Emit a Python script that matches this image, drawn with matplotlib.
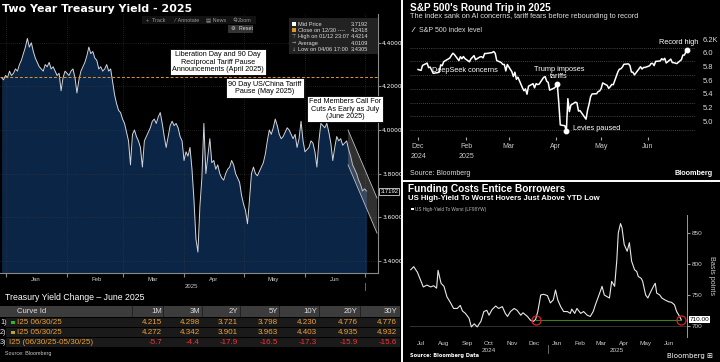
import numpy as np
import pandas as pd
import matplotlib
matplotlib.use("Agg")
import matplotlib.pyplot as plt
import matplotlib.dates as mdates
from matplotlib.patches import Rectangle, Polygon
from matplotlib.lines import Line2D
from matplotlib.ticker import NullFormatter

# ---------------- data ----------------
# two year treasury yield, one value per day from 2024-12-30
t2_start = "2024-12-30"
t2_val = [4.24, 4.23, 4.25, 4.24, 4.27, 4.25, 4.26, 4.28, 4.27, 4.30, 4.32, 4.35,
          4.38, 4.42, 4.38, 4.40, 4.36, 4.33, 4.31, 4.29, 4.28, 4.27,
          4.30, 4.29, 4.31, 4.28, 4.29, 4.27, 4.25, 4.26, 4.18, 4.24,
          4.27, 4.26, 4.25, 4.27, 4.28, 4.24, 4.17, 4.23, 4.27, 4.29,
          4.31, 4.34, 4.38, 4.35, 4.36, 4.33, 4.32, 4.28, 4.29, 4.27,
          4.28, 4.30, 4.27, 4.28, 4.22, 4.16, 4.12, 4.09, 4.08, 4.05,
          4.03, 3.99, 3.95, 3.84, 3.98, 4.00, 3.97, 3.95, 3.92, 3.83,
          3.95, 3.97, 3.99, 4.01, 4.04, 4.05, 4.03, 4.06, 4.08, 4.03,
          3.97, 3.92, 3.97, 4.02, 4.04, 4.02, 4.03, 4.01, 3.97, 3.95,
          3.86, 3.90, 3.88, 3.92, 3.82, 3.68, 3.50, 3.44, 3.65, 3.78,
          4.03, 3.80, 3.88, 3.96, 3.85, 3.86, 3.82, 3.84, 3.80, 3.78,
          3.77, 3.80, 3.82, 3.83, 3.86, 3.84, 3.80, 3.78, 3.76, 3.70,
          3.66, 3.63, 3.57, 3.68, 3.80, 3.83, 3.80, 3.79, 3.81, 3.83,
          3.85, 3.89, 3.95, 4.00, 3.98, 4.01, 4.05, 4.02, 3.98, 3.96,
          3.97, 3.99, 4.01, 4.00, 3.98, 3.96, 3.98, 3.92, 3.96, 4.04,
          3.95, 3.90, 3.91, 3.92, 3.95, 3.94, 3.90, 3.83, 3.95, 4.03,
          4.02, 4.01, 4.03, 3.99, 3.94, 3.86, 3.92, 3.97, 3.95, 3.96,
          3.93, 3.94, 3.95, 3.91, 3.88, 3.84, 3.82, 3.80, 3.77, 3.75,
          3.72, 3.73, 3.72]
t2_ticks = [3.4, 3.6, 3.8, 4.0, 4.2, 4.4]
t2_close_1230 = 4.2418
t2_last = 3.7192
t2_legend = [("Mid Price", "3.7192"), ("Close on 12/30 ----", "4.2418"),
             ("High on 01/12 23:07", "4.4214"), ("Average", "4.0109"),
             ("Low on 04/06 17:00", "3.4305")]

curve_cols = ["1M", "3M", "2Y", "5Y", "10Y", "20Y", "30Y"]
curve_names = ["I25 06/30/25", "I25 05/30/25", "I25 (06/30/25-05/30/25)"]
curve_jun = ["4.215", "4.298", "3.721", "3.798", "4.230", "4.776", "4.776"]
curve_may = ["4.272", "4.342", "3.901", "3.963", "4.403", "4.935", "4.932"]
curve_chg = ["-5.7", "-4.4", "-17.9", "-16.5", "-17.3", "-15.9", "-15.6"]

# S&P 500 (thousands), days after 2024-12-31
sp_day = [0, 2, 3, 6, 7, 8, 10, 13, 14, 15, 16, 17, 21, 22, 23, 24, 27, 28, 29, 30,
          31, 34, 35, 36, 37, 38, 41, 42, 43, 44, 45, 49, 50, 51, 52, 55, 56, 57, 58, 59,
          62, 63, 64, 65, 66, 69, 70, 71, 72, 73, 76, 77, 78, 79, 80, 83, 84, 85, 86, 87,
          90, 91, 92, 93, 94, 97, 98, 99, 100, 101, 104, 105, 106, 107, 111, 112, 113, 114, 115, 118,
          119, 120, 121, 122, 125, 126, 127, 128, 129, 132, 133, 134, 135, 136, 139, 140, 141, 142, 143, 147,
          148, 149, 150, 153, 154, 155, 156, 157, 160, 161, 162, 163, 164, 167, 168, 169, 171, 174, 175, 176,
          177, 178]
sp_val = [5.882, 5.869, 5.942, 5.975, 5.909, 5.918, 5.827, 5.836, 5.843, 5.950,
          5.937, 5.997, 6.049, 6.086, 6.119, 6.101, 6.012, 6.068, 6.039, 6.071,
          6.041, 5.994, 6.038, 6.061, 6.084, 6.026, 6.066, 6.068, 6.052, 6.115,
          6.115, 6.129, 6.144, 6.118, 6.013, 5.983, 5.955, 5.956, 5.861, 5.955,
          5.850, 5.779, 5.842, 5.739, 5.770, 5.615, 5.572, 5.599, 5.522, 5.639,
          5.675, 5.615, 5.676, 5.663, 5.668, 5.768, 5.777, 5.712, 5.693, 5.581,
          5.612, 5.633, 5.671, 5.397, 5.074, 5.062, 4.983, 5.457, 5.268, 5.363,
          5.406, 5.397, 5.276, 5.283, 5.158, 5.288, 5.376, 5.485, 5.525, 5.529,
          5.561, 5.569, 5.604, 5.686, 5.650, 5.607, 5.631, 5.664, 5.660, 5.844,
          5.886, 5.892, 5.917, 5.958, 5.964, 5.940, 5.845, 5.842, 5.803, 5.922,
          5.889, 5.912, 5.912, 5.936, 5.970, 5.971, 5.939, 6.000, 6.006, 6.039,
          6.022, 6.045, 5.977, 6.033, 5.983, 5.981, 5.968, 6.025, 6.092, 6.092,
          6.141, 6.173]
sp_ticks = [5.0, 5.2, 5.4, 5.6, 5.8, 6.0, 6.2]
sp_tick_lbl = ["5.0", "5.2", "5.4", "5.6", "5.8", "6.0", "6.2K"]
sp_xdates = ["2024-12-31", "2025-02-01", "2025-03-01", "2025-04-01", "2025-05-01", "2025-06-01"]
sp_xlbl = ["Dec\n2024", "Feb\n2025", "Mar", "Apr", "May", "Jun"]
sp_events = {"trump": 92, "levies": 98, "record": 178}

# US high yield to worst (bp), days after 2024-07-01
hy_day = [0, 4, 9, 13, 17, 22, 27, 31, 35, 37, 41, 45, 49, 54, 58, 63, 67, 70, 74, 79,
          82, 86, 90, 95, 99, 103, 106, 110, 115, 119, 124, 128, 131, 135, 140, 144, 149, 152, 158, 162,
          166, 169, 172, 176, 180, 185, 189, 193, 196, 199, 203, 207, 212, 216, 218, 222, 225, 230, 234, 239,
          243, 247, 250, 254, 259, 262, 266, 269, 272, 276, 279, 281, 284, 286, 289, 293, 296, 299, 303, 306,
          308, 312, 314, 318, 321, 324, 329, 331, 333, 337, 340, 344, 349, 353, 357, 360, 364, 366]
hy_val = [791, 796, 787, 775, 763, 766, 763, 765, 761, 790, 769, 764, 747, 737, 728, 728, 733, 724, 720, 712,
          698, 703, 698, 707, 723, 725, 717, 726, 732, 728, 731, 720, 715, 723, 728, 725, 717, 721, 715, 709,
          707, 710, 723, 750, 751, 749, 737, 742, 758, 742, 731, 723, 723, 720, 727, 720, 728, 720, 723, 717,
          715, 723, 734, 747, 764, 750, 747, 745, 772, 764, 807, 851, 866, 859, 832, 821, 835, 805, 791, 788,
          780, 777, 772, 750, 745, 753, 765, 769, 753, 750, 745, 742, 739, 738, 734, 723, 715, 710]
hy_ticks = [700, 750, 800, 850]
hy_low = 710
hy_low_day0 = 169

# ---------------- figure ----------------
W, H = 720, 362
fig = plt.figure(figsize=(7.2, 3.62), dpi=100, facecolor="black")
SANS = "Liberation Sans"
WIDE = "DejaVu Sans"
SYM = [SANS, "DejaVu Sans"]


def fax(x0, y0, x1, y1):
    ax = fig.add_axes([x0 / W, 1 - y1 / H, (x1 - x0) / W, (y1 - y0) / H])
    ax.set_facecolor("black")
    return ax


def txt(x, y, s, size=5, color="white", ha="left", va="center", family=SANS, **kw):
    return fig.text(x / W, 1 - y / H, s, size=size, color=color, ha=ha, va=va,
                    family=family, **kw)


def rect(x, y, w, h, **kw):
    fig.add_artist(Rectangle((x / W, 1 - (y + h) / H), w / W, h / H,
                             transform=fig.transFigure, lw=0, **kw))


def seg(xs, ys, **kw):
    fig.add_artist(Line2D([x / W for x in xs], [1 - y / H for y in ys],
                          transform=fig.transFigure, **kw))


def days(base, d):
    return pd.Timestamp(base) + pd.to_timedelta(d, unit="D")


# ======== left: two year treasury ========
txt(2, 9, "Two Year Treasury Yield - 2025", size=7.9, weight="bold", family=WIDE)

t2_x = pd.date_range(t2_start, periods=len(t2_val), freq="D")
ax1 = fax(0, 14, 378, 273)
ylo, yhi = 3.344, 4.532
ax1.set_ylim(ylo, yhi)
ax1.set_xlim(days("2025-01-01", -2.8), days("2025-01-01", 187.8))
for v in t2_ticks:
    ax1.axhline(v, color="#3a3a3a", lw=0.5, ls=(0, (1, 2)), zorder=3)
for m in pd.date_range("2025-01-01", "2025-07-01", freq="MS"):
    ax1.axvline(m, color="#3a3a3a", lw=0.5, ls=(0, (1, 2)), zorder=3)
ax1.fill_between(t2_x, t2_val, ylo, color="#0b2547", lw=0, zorder=2)
ax1.plot(t2_x, t2_val, color="#d2d6dc", lw=0.7, zorder=4)
ax1.axhline(t2_close_1230, color="#e0962a", lw=0.7, ls=(0, (3, 2)), zorder=5)

# trend channel
d0 = mdates.date2num(days("2025-01-01", 172.7))
d1 = mdates.date2num(days("2025-01-01", 187.3))
ax1.add_patch(Polygon([(d0, 4.0), (d1, 3.688), (d1, 3.527), (d0, 3.84)], closed=True,
                      fc="#8c8c8c", alpha=0.35, ec="none", zorder=6))
ax1.plot([d0, d1], [4.0, 3.688], color="#bdbdbd", lw=0.6, zorder=6)
ax1.plot([d0, d1], [3.84, 3.527], color="#bdbdbd", lw=0.6, zorder=6)

for s in ["top", "left"]:
    ax1.spines[s].set_visible(False)
for s in ["right", "bottom"]:
    ax1.spines[s].set_color("#8a8a8a")
    ax1.spines[s].set_linewidth(0.8)
ax1.yaxis.tick_right()
ax1.set_yticks(t2_ticks)
ax1.set_yticklabels([f"{v:.4f}" for v in t2_ticks])
ax1.tick_params(axis="y", colors="#8a8a8a", labelcolor="white", labelsize=4.2, length=2, pad=1)
ax1.xaxis.set_major_locator(mdates.MonthLocator())
ax1.xaxis.set_major_formatter(NullFormatter())
ax1.xaxis.set_minor_locator(mdates.MonthLocator(bymonthday=16))
ax1.xaxis.set_minor_formatter(mdates.DateFormatter("%b"))
ax1.tick_params(axis="x", which="major", length=3, color="#8a8a8a")
ax1.tick_params(axis="x", which="minor", length=0, labelsize=4.3, labelcolor="#cccccc", pad=3)
for lbl in ax1.get_xticklabels(minor=True):
    lbl.set_family(SANS)
txt(185, 287, "2025", size=4.3, color="#cccccc")
seg([365, 365], [283, 290], color="#777777", lw=0.6)

ax1.text(1.006, t2_last, f"{t2_last:.4f}", transform=ax1.get_yaxis_transform(), size=4.2,
         color="white", va="center", ha="left", family=SANS,
         bbox=dict(boxstyle="square,pad=0.15", fc="black", ec="white", lw=0.5), clip_on=False)

# toolbar
rect(142, 16, 114, 8, color="#121212")
for x, s in [(146, "+  Track"), (174, "⁄  Annotate"), (206, "▤ News"), (238, "Zoom")]:
    txt(x, 20, s, size=3.9, color="#9a9a9a", family=SYM)
# magnifier icon
seg([234.8], [19.4], marker="o", ms=2.2, mfc="none", mec="#9a9a9a", mew=0.5, ls="none")
seg([235.5, 236.5], [20.2, 21.3], color="#9a9a9a", lw=0.5)
rect(228, 25, 25, 8, color="#333333")
txt(231, 29, "⚙  Reset", size=3.9, color="#dddddd", family=SYM)

# legend box
rect(289, 18, 89, 36, color="#222222")
icons = ["sq_w", "sq_o", "⊤", "→", "↓"]
for i, ((lab, val), ic) in enumerate(zip(t2_legend, icons)):
    yy = 24 + i * 6.4
    if ic == "sq_w":
        rect(292, yy - 2, 4, 4, color="white")
    elif ic == "sq_o":
        rect(292, yy - 2, 4, 4, color="#e0962a")
    else:
        txt(294, yy, ic, size=3.6, color="#aaaaaa", ha="center", family=WIDE)
    txt(298, yy, lab, size=4.1, color="#dddddd")
    txt(368, yy, val, size=4.1, color="#dddddd", ha="right")

# event boxes
bx = dict(boxstyle="square,pad=0.3", fc="white", ec="black", lw=0.6)
txt(218, 62, "Liberation Day and 90 Day\nReciprocal Tariff Pause\nAnnouncements (April 2025)",
    size=5.2, color="black", ha="center", multialignment="center", linespacing=1.15, bbox=bx)
txt(265, 88, "90 Day US/China Tariff\nPause (May 2025)", size=5.2, color="black",
    ha="center", multialignment="center", linespacing=1.15, bbox=bx)
txt(345, 109, "Fed Members Call For\nCuts As Early as July\n(June 2025)", size=5.2,
    color="black", ha="center", multialignment="center", linespacing=1.15, bbox=bx)

# table
txt(5, 297, "Treasury Yield Change – June 2025", size=6.3)
col_right = [162, 200, 238, 278, 317, 358, 397]
col_sep = [132, 163, 202, 240, 279, 319, 360]
rect(0, 306, 400, 11, color="#3c3c3c")
for x in col_sep:
    rect(x, 306, 0.8, 11, color="#222222")
txt(17, 311.5, "Curve Id", size=5.6, color="#dddddd")
for x, c in zip(col_right, curve_cols):
    txt(x, 311.5, c, size=5.6, color="#dddddd", ha="right")
rows = [(curve_jun, "#f0a030"), (curve_may, "#f0a030"), (curve_chg, "#ff3030")]
squares = ["#2fb52f", "#b8a53a", None]
for i, ((vals, vc), name, sq) in enumerate(zip(rows, curve_names, squares)):
    yy = 322.5 + i * 10
    rect(6, yy - 4.7, 394, 9.4, color="#1a1a1a")
    txt(0, yy, f"{i + 1})", size=5.2, color="#e8e8e8")
    if sq:
        rect(11, yy - 1.8, 3.6, 3.6, color=sq)
        txt(17, yy, name, size=5.8, color="#f0a030")
    else:
        txt(9, yy, name, size=5.8, color="#f0a030")
    for x, v in zip(col_right, vals):
        txt(x, yy, v, size=5.8, color=vc, ha="right")
txt(5, 354, "Source: Bloomberg", size=3.9, color="#cccccc")

# ======== top right: S&P 500 ========
txt(410, 8, "S&P 500's Round Trip in 2025", size=7.2, weight="bold")
txt(410, 17, "The index sank on AI concerns, tariff fears before rebounding to record",
    size=5.3, color="#dddddd")
txt(412, 31, "⁄", size=5.5, color="white", ha="left", weight="bold")
txt(419, 31, "S&P 500 index level", size=5.0, color="#dddddd")

sp_x = days("2024-12-31", sp_day)
ax2 = fax(410, 40, 695, 137)
ax2.set_xlim(days("2024-12-31", -5.3), days("2024-12-31", 183))
ax2.set_ylim(4.898, 6.312)
for v, lab in zip(sp_ticks, sp_tick_lbl):
    ax2.axhline(v, color="#5a5a5a", lw=0.6, ls=(0, (1, 1.5)), zorder=0)
    ax2.annotate(lab, xy=(1.028, v), xycoords=ax2.get_yaxis_transform(), xytext=(0, 5.5),
                 textcoords="offset points", size=5.4, color="#dddddd", va="center",
                 ha="left", family=SANS)
ax2.plot(sp_x, sp_val, color="white", lw=1.1, zorder=3)
ev = [sp_events["trump"], sp_events["levies"], sp_events["record"]]
ax2.plot(days("2024-12-31", ev), [sp_val[sp_day.index(d)] for d in ev], "o", ms=3.2,
         color="white", zorder=4)
for s in ax2.spines.values():
    s.set_visible(False)
ax2.set_yticks([])
ax2.set_xticks(pd.to_datetime(sp_xdates))
ax2.set_xticklabels(sp_xlbl, family=SANS, linespacing=1.5)
ax2.tick_params(axis="x", length=2.5, color="#aaaaaa", labelsize=5, labelcolor="#cccccc", pad=2)

txt(432, 70, "DeepSeek concerns", size=5.3)
txt(559, 73, "Trump imposes\ntariffs", size=5.3, ha="center", multialignment="center",
    linespacing=1.0)
txt(573, 129, "Levies paused", size=5.3)
txt(698, 42, "Record high", size=5.3, ha="right")
txt(410, 173, "Source: Bloomberg", size=5, color="#dddddd")
txt(713, 173, "Bloomberg", size=5.2, ha="right", weight="bold")

# ======== bottom right: high yield ========
txt(408, 189, "Funding Costs Entice Borrowers", size=7.3, weight="bold")
txt(408, 199, "US High-Yield To Worst Hovers Just Above YTD Low", size=5.6, weight="bold")
rect(411, 207.5, 2.5, 2.5, color="white")
txt(415, 209, "US High-Yield To Worst (LF98YW)", size=3.3, color="#bbbbbb")

hy_x = days("2024-07-01", hy_day)
ax3 = fax(410, 215, 687, 337)
ax3.set_xlim(days("2024-07-01", -1), days("2024-07-01", 374))
ax3.set_ylim(681.6, 880)
ax3.axhline(700, color="#3a3a3a", lw=0.6, zorder=0)
ax3.plot(hy_x, hy_val, color="#e8e8e8", lw=0.8, zorder=3)
ax3.plot([days("2024-07-01", hy_low_day0), hy_x[-1]], [hy_low, hy_low], color="#3f7f1a",
         lw=0.8, zorder=2)
ax3.plot([days("2024-07-01", hy_low_day0), hy_x[-1]], [hy_low, hy_low], "o", ms=6.5,
         mfc="none", mec="#e02020", mew=0.9, zorder=4)
for s in ["top", "left", "bottom"]:
    ax3.spines[s].set_visible(False)
ax3.spines["right"].set_color("#9a9a9a")
ax3.spines["right"].set_linewidth(0.7)
ax3.yaxis.tick_right()
ax3.set_yticks(hy_ticks)
ax3.tick_params(axis="y", length=2, color="#9a9a9a", labelsize=4.6, labelcolor="#cccccc", pad=1.5)
for lbl in ax3.get_yticklabels():
    lbl.set_family(SANS)
ax3.xaxis.set_major_locator(mdates.MonthLocator(bymonthday=15))
ax3.xaxis.set_major_formatter(mdates.DateFormatter("%b"))
ax3.tick_params(axis="x", length=0, labelsize=4.6, labelcolor="#cccccc", pad=3)
for lbl in ax3.get_xticklabels():
    lbl.set_family(SANS)
ax3.text(1.01, hy_low, f"{hy_low:.2f}", transform=ax3.get_yaxis_transform(), size=4.6,
         color="black", va="center", ha="left", family=SANS,
         bbox=dict(boxstyle="square,pad=0.15", fc="white", ec="none"), clip_on=False)
txt(712, 275, "Basis points", size=5.2, color="#cccccc", rotation=-90, ha="center")
txt(489, 350, "2024", size=4.6, color="#cccccc", ha="center")
txt(617, 350, "2025", size=4.6, color="#cccccc", ha="center")
seg([548, 548], [345, 353], color="#777777", lw=0.6)
txt(410, 356, "Source: Bloomberg Data", size=3.6, weight="bold", family=WIDE)
txt(713, 356, "Bloomberg ⊞", size=5.0, ha="right", family=WIDE)

# panel separators
seg([401.5, 401.5], [0, H], color="white", lw=1.4)
seg([401.5, W], [181, 181], color="white", lw=1.4)

fig.savefig("out.png", dpi=100, facecolor="black")
